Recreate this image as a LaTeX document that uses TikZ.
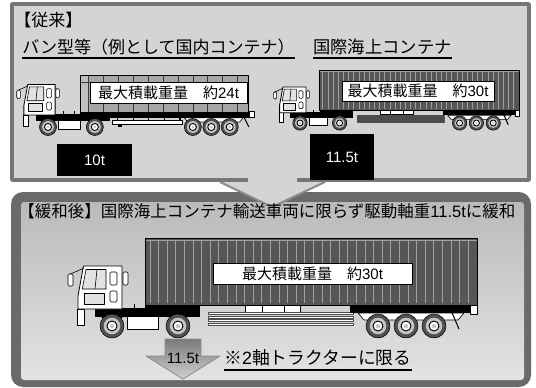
\documentclass[tikz,border=0pt]{standalone}
\usepackage{fontspec}
\setmainfont{Noto Sans CJK JP}
\newfontfamily\lat{Liberation Sans}
\definecolor{boxgray}{HTML}{D4D4D4}
\definecolor{frameA}{HTML}{767676}
\definecolor{frameB}{HTML}{6A6A6A}
\definecolor{contgray}{HTML}{565656}
\definecolor{ribgray}{HTML}{A0A0A0}
\definecolor{vangray}{HTML}{A6A6A6}
\definecolor{vanline}{HTML}{3C3C3C}
\definecolor{tyre}{HTML}{505050}
\definecolor{rimgray}{HTML}{C4C4C4}
\definecolor{cabglass}{HTML}{E2E2E2}
\definecolor{arrowline}{HTML}{8A8A8A}

% one wheel: tyre, rim, hub
\newcommand{\truckwheel}[2]{%
  \draw[fill=tyre, line width=0.5pt] (#1,#2) circle (12);
  \fill[rimgray] (#1,#2) circle (8.3);
  \draw[fill=white, line width=0.9pt] (#1,#2) circle (5);
  \fill[rimgray] (#1,#2) circle (2.2);
}

% tractor unit, origin at the front axle
\newcommand{\tractorunit}{%
  \fill[black] (-17,-18) rectangle (88,-9);
  \fill[black] (58,-22) rectangle (88,-18);
  \fill[black] (-14,-18) arc[start angle=180, end angle=0, radius=14] -- (14,-9) -- (-14,-9) -- cycle;
  \draw[fill=white, line width=0.8pt] (-35,-17) rectangle (-28,-1);
  \draw[fill=white, line width=0.8pt] (-28.5,-60) -- (10,-60) -- (10,-17) -- (-34,-17) -- (-34,-30) -- cycle;
  \draw[fill=cabglass] (-26,-56.5) -- (-6,-56.5) -- (-6,-37) -- (-29.7,-37) -- cycle;
  \draw (-15,-56.5) -- (-17,-37);
  \draw[fill=white, rounded corners=1.2pt] (-2,-54) rectangle (5,-41);
  \draw[fill=white, rounded corners=1.2pt] (-2,-35) rectangle (5,-24);
  \draw[fill=cabglass] (-28,-33) rectangle (-8,-22);
  \draw[fill=white, rounded corners=1.2pt] (11,-54) rectangle (16,-41);
  \draw[fill=white, rounded corners=1.2pt] (-44,-52) rectangle (-39,-40);
  \draw (-41.5,-52) -- (-28,-58);
  \draw[fill=white] (15,-10) rectangle (46,3);
  \draw[line width=1pt] (22,-22) -- (22,-18) (38,-22) -- (38,-18);
  \truckwheel{0}{0}
  \truckwheel{66}{0}
}

% container semi-trailer
\newcommand{\containertrailer}{%
  \fill[black] (33,-22) rectangle (72,-17);
  \draw[fill=white] (133,-23) rectangle (188,-14);
  \draw (150,-23) -- (150,-14) (172,-23) -- (172,-14);
  \foreach \y in {-13.5,-10,-6.5,-3} \draw[fill=white, draw=black!70] (96,\y) rectangle (241,\y+2.2);
  \fill[black] (238,-23) rectangle (365,-13);
  \draw[fill=white] (246,-13) -- (352,-13) -- (346,-6) -- (252,-6) -- cycle;
  \draw[line width=1pt] (338,-18) -- (347,3);
  \draw[fill=white] (358,-24) rectangle (365,-12);
  \fill[contgray] (33,-88) rectangle (365,-21);
  \foreach \x in {38,46.6,...,362} \draw[ribgray, line width=0.7pt] (\x,-85) -- (\x,-23);
  \draw[ribgray] (33,-85.5) -- (365,-85.5);
  \draw[line width=0.8pt] (33,-88) rectangle (365,-21);
  \truckwheel{266}{0}
  \truckwheel{294}{0}
  \truckwheel{322}{0}
}

% box-van semi-trailer
\newcommand{\vantrailer}{%
  \fill[black] (45,-21) rectangle (290,-13);
  \foreach \x in {98,120,...,186} \draw[line width=1.2pt] (\x,-13) -- (\x,-9);
  \draw[fill=white] (90,-10) rectangle (189,-4);
  \fill[black] (99,-4) rectangle (104,0);
  \draw[fill=white] (192,-13) -- (275,-13) -- (270,-7) -- (197,-7) -- cycle;
  \draw[line width=1pt] (276,-14) -- (283,0);
  \draw[fill=white] (284,-22) rectangle (290,-13);
  \fill[vangray] (45,-73) rectangle (282,-21);
  \fill[black!25] (45,-73) rectangle (57,-21);
  \foreach \x in {57,78,...,270} \draw[vanline, line width=0.6pt] (\x,-73) -- (\x,-21);
  \draw[vanline, line width=0.6pt] (45,-63) -- (282,-63);
  \draw[line width=0.8pt] (45,-73) rectangle (282,-21);
  \truckwheel{204}{0}
  \truckwheel{230}{0}
  \truckwheel{256}{0}
}

\tikzset{
  heading/.style={anchor=base west, inner sep=0pt, font=\fontsize{17}{18}\selectfont},
  plate/.style={draw=black, fill=white, line width=0.6pt, inner sep=0pt, font=\fontsize{15}{16}\selectfont},
  weightbox/.style={fill=black, text=white, inner sep=0pt, font=\lat\fontsize{15}{16}\selectfont},
  uline/.style={line width=1.1pt},
}

\begin{document}
\begin{tikzpicture}[x=1pt, y=-1pt, line width=0.6pt, line join=round]
\useasboundingbox (0,0) rectangle (536,388);
\fill[white] (0,0) rectangle (536,388);

% upper panel: before
\draw[frameA, line width=3.5pt, fill=boxgray] (12,4) rectangle (529,180);

% lower panel: after
\fill[frameB] (11,192) [rounded corners=12pt] rectangle (531,387);
\shade[top color=black!27, bottom color=black!11, rounded corners=3pt] (21,202) rectangle (524,380);

% transition arrow between the panels
\fill[boxgray] (248,150) -- (297,150) -- (297,182) -- (325,182) -- (272,207) -- (220,182) -- (248,182) -- cycle;
\draw[arrowline, line width=2pt] (220,182) -- (272,207) -- (325,182);

% headings
\node[heading] (conv) at (14,27) {【従来】};
\node[heading] (vanhead) at (22,53) {バン型等（例として国内コンテナ）};
\node[heading, font=\fontsize{17.3}{18}\selectfont] (isohead) at (313,53) {国際海上コンテナ};
\draw[uline] ([yshift=-5pt]vanhead.base west) -- ([yshift=-5pt]vanhead.base east);
\draw[uline] ([yshift=-5pt]isohead.base west) -- ([yshift=-5pt]isohead.base east);

% trucks of the upper panel
\begin{scope}[shift={(48,127)}, scale=0.71]
  \tractorunit
  \vantrailer
\end{scope}
\begin{scope}[shift={(300,123)}, scale=0.6]
  \tractorunit
  \containertrailer
\end{scope}
\node[plate, minimum width=157pt, minimum height=21pt] (plate1) at (168.5,92.5) {最大積載重量　約{\lat 24t}};
\node[plate, minimum width=152pt, minimum height=20pt] (plate2) at (418,91) {最大積載重量　約{\lat 30t}};

% drive-axle loads
\node[weightbox, minimum width=75pt, minimum height=32pt] (w10) at (94.5,160) {10t};
\node[weightbox, minimum width=64pt, minimum height=46pt] (w115) at (342,157) {11.5t};

% lower panel contents
\node[heading, font=\fontsize{16.5}{18}\selectfont] (after) at (18,217) {【緩和後】国際海上コンテナ輸送車両に限らず駆動軸重{\lat 11.5t}に緩和};

\begin{scope}[shift={(112,326)}, scale=1]
  \tractorunit
  \containertrailer
\end{scope}
\node[plate, minimum width=199pt, minimum height=21pt] (plate3) at (312.5,273.5) {最大積載重量　約{\lat 30t}};

% axle load arrow
\shade[top color=black!52, bottom color=black!18, draw=arrowline, line width=0.8pt]
  (165,339) -- (201,339) -- (201,356) -- (220,356) -- (183,379) -- (146,356) -- (165,356) -- cycle;
\node[inner sep=0pt, font=\lat\fontsize{15}{16}\selectfont] (w3) at (183,358) {11.5t};

\node[heading, font=\fontsize{17.8}{18}\selectfont] (note) at (224,364) {※{\lat 2}軸トラクターに限る};
\draw[uline] ([yshift=-6pt]note.base west) -- ([yshift=-6pt]note.base east);
\end{tikzpicture}
\end{document}
